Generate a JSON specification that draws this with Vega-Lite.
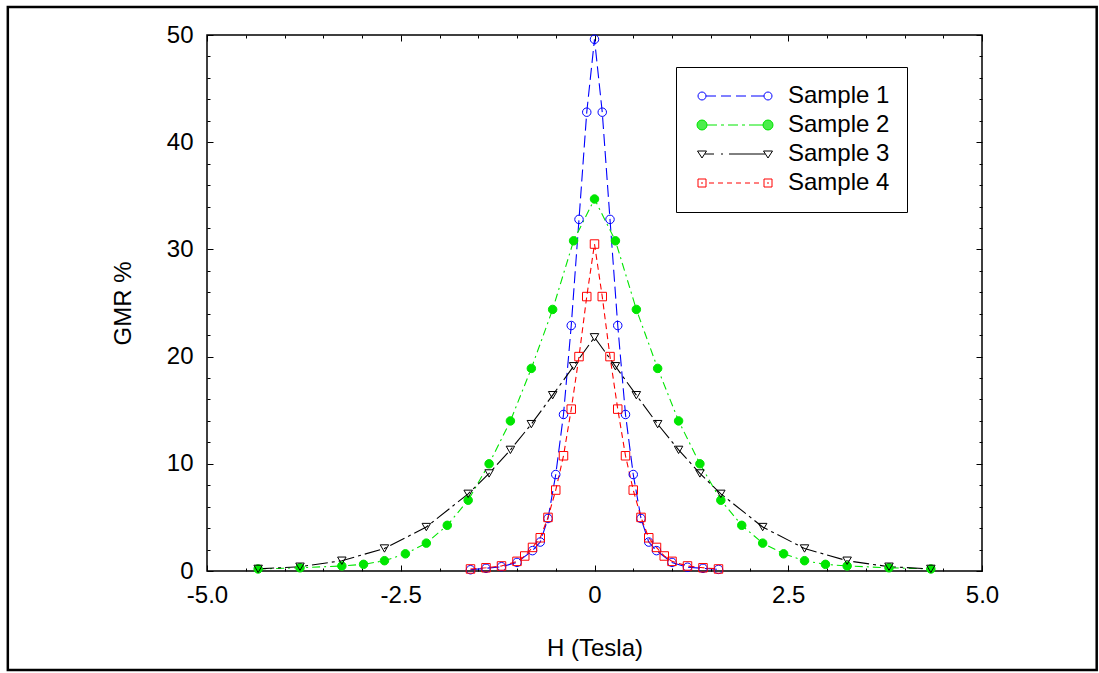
{
  "$schema": "https://vega.github.io/schema/vega-lite/v6.json",
  "width": 775,
  "height": 536,
  "autosize": "none",
  "padding": {"left": 207, "top": 35, "right": 117, "bottom": 102},
  "background": "white",
  "config": {
    "view": {"stroke": "black", "strokeWidth": 1.5},
    "font": "Liberation Sans",
    "axis": {
      "grid": false, "domain": false, "tickColor": "black", "tickWidth": 1,
      "labelColor": "black", "titleColor": "black",
      "labelFont": "Liberation Sans", "titleFont": "Liberation Sans",
      "labelFontSize": 24, "titleFontSize": 24, "titleFontWeight": "normal",
      "labelFlush": false, "labelOverlap": false
    }
  },
  "datasets": {
    "gmr": [
      {"series": "Sample 1", "x": -1.6, "y": 0.12},
      {"series": "Sample 1", "x": -1.4, "y": 0.25},
      {"series": "Sample 1", "x": -1.2, "y": 0.4},
      {"series": "Sample 1", "x": -1.0, "y": 0.8},
      {"series": "Sample 1", "x": -0.8, "y": 1.9},
      {"series": "Sample 1", "x": -0.7, "y": 2.7},
      {"series": "Sample 1", "x": -0.6, "y": 4.9},
      {"series": "Sample 1", "x": -0.5, "y": 9.0},
      {"series": "Sample 1", "x": -0.4, "y": 14.6},
      {"series": "Sample 1", "x": -0.3, "y": 22.9},
      {"series": "Sample 1", "x": -0.2, "y": 32.8},
      {"series": "Sample 1", "x": -0.1, "y": 42.8},
      {"series": "Sample 1", "x": 0, "y": 49.6},
      {"series": "Sample 1", "x": 0.1, "y": 42.8},
      {"series": "Sample 1", "x": 0.2, "y": 32.8},
      {"series": "Sample 1", "x": 0.3, "y": 22.9},
      {"series": "Sample 1", "x": 0.4, "y": 14.6},
      {"series": "Sample 1", "x": 0.5, "y": 9.0},
      {"series": "Sample 1", "x": 0.6, "y": 4.9},
      {"series": "Sample 1", "x": 0.7, "y": 2.7},
      {"series": "Sample 1", "x": 0.8, "y": 1.9},
      {"series": "Sample 1", "x": 1.0, "y": 0.8},
      {"series": "Sample 1", "x": 1.2, "y": 0.35},
      {"series": "Sample 1", "x": 1.4, "y": 0.25},
      {"series": "Sample 1", "x": 1.6, "y": 0.15},
      {"series": "Sample 2", "x": -4.34, "y": 0.19},
      {"series": "Sample 2", "x": -3.8, "y": 0.3},
      {"series": "Sample 2", "x": -3.26, "y": 0.47},
      {"series": "Sample 2", "x": -2.98, "y": 0.62},
      {"series": "Sample 2", "x": -2.71, "y": 0.96},
      {"series": "Sample 2", "x": -2.44, "y": 1.6},
      {"series": "Sample 2", "x": -2.17, "y": 2.6},
      {"series": "Sample 2", "x": -1.9, "y": 4.26},
      {"series": "Sample 2", "x": -1.63, "y": 6.6},
      {"series": "Sample 2", "x": -1.36, "y": 10.0},
      {"series": "Sample 2", "x": -1.085, "y": 14.0},
      {"series": "Sample 2", "x": -0.815, "y": 18.9},
      {"series": "Sample 2", "x": -0.54, "y": 24.4},
      {"series": "Sample 2", "x": -0.27, "y": 30.8},
      {"series": "Sample 2", "x": 0, "y": 34.7},
      {"series": "Sample 2", "x": 0.27, "y": 30.8},
      {"series": "Sample 2", "x": 0.54, "y": 24.4},
      {"series": "Sample 2", "x": 0.815, "y": 18.9},
      {"series": "Sample 2", "x": 1.085, "y": 14.0},
      {"series": "Sample 2", "x": 1.36, "y": 10.0},
      {"series": "Sample 2", "x": 1.63, "y": 6.6},
      {"series": "Sample 2", "x": 1.9, "y": 4.26},
      {"series": "Sample 2", "x": 2.17, "y": 2.6},
      {"series": "Sample 2", "x": 2.44, "y": 1.6},
      {"series": "Sample 2", "x": 2.71, "y": 0.96},
      {"series": "Sample 2", "x": 2.98, "y": 0.62},
      {"series": "Sample 2", "x": 3.26, "y": 0.47},
      {"series": "Sample 2", "x": 3.8, "y": 0.3},
      {"series": "Sample 2", "x": 4.34, "y": 0.19},
      {"series": "Sample 3", "x": -4.34, "y": 0.2},
      {"series": "Sample 3", "x": -3.8, "y": 0.4},
      {"series": "Sample 3", "x": -3.26, "y": 0.96},
      {"series": "Sample 3", "x": -2.71, "y": 2.1},
      {"series": "Sample 3", "x": -2.17, "y": 4.1},
      {"series": "Sample 3", "x": -1.63, "y": 7.2},
      {"series": "Sample 3", "x": -1.36, "y": 9.1},
      {"series": "Sample 3", "x": -1.085, "y": 11.3},
      {"series": "Sample 3", "x": -0.815, "y": 13.7},
      {"series": "Sample 3", "x": -0.54, "y": 16.4},
      {"series": "Sample 3", "x": -0.27, "y": 19.1},
      {"series": "Sample 3", "x": 0, "y": 21.8},
      {"series": "Sample 3", "x": 0.27, "y": 19.1},
      {"series": "Sample 3", "x": 0.54, "y": 16.4},
      {"series": "Sample 3", "x": 0.815, "y": 13.7},
      {"series": "Sample 3", "x": 1.085, "y": 11.3},
      {"series": "Sample 3", "x": 1.36, "y": 9.1},
      {"series": "Sample 3", "x": 1.63, "y": 7.2},
      {"series": "Sample 3", "x": 2.17, "y": 4.1},
      {"series": "Sample 3", "x": 2.71, "y": 2.1},
      {"series": "Sample 3", "x": 3.26, "y": 0.96},
      {"series": "Sample 3", "x": 3.8, "y": 0.4},
      {"series": "Sample 3", "x": 4.34, "y": 0.2},
      {"series": "Sample 4", "x": -1.6, "y": 0.19},
      {"series": "Sample 4", "x": -1.4, "y": 0.3},
      {"series": "Sample 4", "x": -1.2, "y": 0.47},
      {"series": "Sample 4", "x": -1.0, "y": 0.9},
      {"series": "Sample 4", "x": -0.9, "y": 1.4},
      {"series": "Sample 4", "x": -0.8, "y": 2.2},
      {"series": "Sample 4", "x": -0.7, "y": 3.1},
      {"series": "Sample 4", "x": -0.6, "y": 5.0},
      {"series": "Sample 4", "x": -0.5, "y": 7.55},
      {"series": "Sample 4", "x": -0.4, "y": 10.75},
      {"series": "Sample 4", "x": -0.3, "y": 15.1},
      {"series": "Sample 4", "x": -0.2, "y": 20.0},
      {"series": "Sample 4", "x": -0.1, "y": 25.6},
      {"series": "Sample 4", "x": 0, "y": 30.5},
      {"series": "Sample 4", "x": 0.1, "y": 25.6},
      {"series": "Sample 4", "x": 0.2, "y": 20.0},
      {"series": "Sample 4", "x": 0.3, "y": 15.1},
      {"series": "Sample 4", "x": 0.4, "y": 10.75},
      {"series": "Sample 4", "x": 0.5, "y": 7.55},
      {"series": "Sample 4", "x": 0.6, "y": 5.0},
      {"series": "Sample 4", "x": 0.7, "y": 3.1},
      {"series": "Sample 4", "x": 0.8, "y": 2.2},
      {"series": "Sample 4", "x": 0.9, "y": 1.4},
      {"series": "Sample 4", "x": 1.0, "y": 0.9},
      {"series": "Sample 4", "x": 1.2, "y": 0.47},
      {"series": "Sample 4", "x": 1.4, "y": 0.3},
      {"series": "Sample 4", "x": 1.6, "y": 0.19}
    ],
    "empty": []
  },
  "layer": [
    {
      "data": {"values": [{}]},
      "mark": {"type": "rect", "filled": false, "stroke": "black", "strokeWidth": 2.5, "clip": false},
      "encoding": {
        "x": {"datum": -7.57, "type": "quantitative", "scale": {"domain": [-5, 5], "nice": false, "zero": false},
          "axis": {"orient": "bottom", "values": [-4.5, -4, -3.5, -3, -2, -1.5, -1, -0.5, 0.5, 1, 1.5, 2, 3, 3.5, 4, 4.5], "labels": false, "title": null, "tickSize": -3}},
        "x2": {"datum": 6.48},
        "y": {"datum": 52.62, "type": "quantitative", "scale": {"domain": [0, 50], "nice": false, "zero": false},
          "axis": {"orient": "left", "values": [2, 4, 6, 8, 12, 14, 16, 18, 22, 24, 26, 28, 32, 34, 36, 38, 42, 44, 46, 48], "labels": false, "title": null, "tickSize": -3}},
        "y2": {"datum": -9.24}
      }
    },
    {
      "data": {"name": "empty"},
      "mark": {"type": "point"},
      "encoding": {
        "x": {"field": "x", "type": "quantitative", "scale": {"domain": [-5, 5], "nice": false, "zero": false},
          "axis": {"orient": "top", "values": [-5, -2.5, 0, 2.5, 5], "labels": false, "title": null, "tickSize": -6}},
        "y": {"field": "y", "type": "quantitative", "scale": {"domain": [0, 50], "nice": false, "zero": false},
          "axis": {"orient": "right", "values": [0, 10, 20, 30, 40, 50], "labels": false, "title": null, "tickSize": -6}}
      }
    },
    {
      "data": {"name": "empty"},
      "mark": {"type": "point"},
      "encoding": {
        "x": {"field": "x", "type": "quantitative", "scale": {"domain": [-5, 5], "nice": false, "zero": false},
          "axis": {"orient": "top", "values": [-4.5, -4, -3.5, -3, -2, -1.5, -1, -0.5, 0.5, 1, 1.5, 2, 3, 3.5, 4, 4.5], "labels": false, "title": null, "tickSize": -3}},
        "y": {"field": "y", "type": "quantitative", "scale": {"domain": [0, 50], "nice": false, "zero": false},
          "axis": {"orient": "right", "values": [2, 4, 6, 8, 12, 14, 16, 18, 22, 24, 26, 28, 32, 34, 36, 38, 42, 44, 46, 48], "labels": false, "title": null, "tickSize": -3}}
      }
    },
    {
      "data": {"name": "gmr"},
      "mark": {"type": "line", "strokeWidth": 1.1},
      "encoding": {
        "x": {"field": "x", "type": "quantitative", "scale": {"domain": [-5, 5], "nice": false, "zero": false},
          "axis": {"orient": "bottom", "title": "H (Tesla)", "values": [-5, -2.5, 0, 2.5, 5], "ticks": false, "labelPadding": 12, "titlePadding": 29,
            "labelExpr": "datum.value === 0 ? '0' : replace(format(datum.value, '.1f'), '\u2212', '-')"}},
        "y": {"field": "y", "type": "quantitative", "scale": {"domain": [0, 50], "nice": false, "zero": false},
          "axis": {"orient": "left", "title": "GMR %", "values": [0, 10, 20, 30, 40, 50], "ticks": false, "labelPadding": 14, "titlePadding": 31}},
        "stroke": {"field": "series", "type": "nominal",
          "scale": {"range": ["#0000ff", "#00e600", "#000000", "#ff0000"]}, "legend": null},
        "strokeDash": {"field": "series", "type": "nominal",
          "scale": {"range": [[12, 5], [8, 4, 2, 4], [16, 4, 3, 4], [6, 4]]}, "legend": null}
      }
    },
    {
      "data": {"name": "gmr"},
      "mark": {"type": "point", "size": 72, "strokeWidth": 1},
      "encoding": {
        "x": {"field": "x", "type": "quantitative", "scale": {"domain": [-5, 5], "nice": false, "zero": false},
          "axis": {"orient": "bottom", "values": [-5, -2.5, 0, 2.5, 5], "labels": false, "title": null, "tickSize": -6}},
        "y": {"field": "y", "type": "quantitative", "scale": {"domain": [0, 50], "nice": false, "zero": false},
          "axis": {"orient": "left", "values": [0, 10, 20, 30, 40, 50], "labels": false, "title": null, "tickSize": -6}},
        "stroke": {"field": "series", "type": "nominal", "legend": null},
        "fill": {"field": "series", "type": "nominal",
          "scale": {"range": ["transparent", "#00e600", "transparent", "transparent"]}, "legend": null},
        "shape": {"field": "series", "type": "nominal",
          "scale": {"range": ["circle", "circle", "triangle-down", "square"]}, "legend": null},
        "opacity": {"field": "series", "type": "nominal",
          "scale": {"domain": ["Sample 1", "Sample 2", "Sample 3", "Sample 4"], "range": [1, 1, 1, 1]},
          "legend": {
            "title": null, "orient": "none", "legendX": 469, "legendY": 32, "padding": 17,
            "strokeColor": "black", "fillColor": "white",
            "labelFont": "Liberation Sans", "labelFontSize": 24, "labelColor": "black", "labelLimit": 0,
            "labelOffset": 71, "symbolSize": 4, "rowPadding": 5, "symbolStrokeWidth": 1,
            "encoding": {
              "symbols": {
                "size": {"value": 4},
                "strokeWidth": {"value": 1},
                "shape": {
                  "condition": [
                    {"test": "datum.value === 'Sample 1'", "value": "M-7,0A4,4 0 1,1 1,0A4,4 0 1,1 -7,0Z M1,0L11,0M16,0L26,0M31,0L41,0M46,0L59,0 M59,0A4,4 0 1,1 67,0A4,4 0 1,1 59,0Z"},
                    {"test": "datum.value === 'Sample 2'", "value": "M-8,0A5,5 0 1,1 2,0A5,5 0 1,1 -8,0Z M2,0L12,0M16,0L19,0M23,0L33,0M37,0L40,0M44,0L58,0 M58,0A5,5 0 1,1 68,0A5,5 0 1,1 58,0Z"},
                    {"test": "datum.value === 'Sample 3'", "value": "M-7.5,-3L1.5,-3L-3,4Z M0,0L9,0M16,0L18,0M24,0L60,0 M58.5,-3L67.5,-3L63,4Z"}
                  ],
                  "value": "M-7,-4L1,-4L1,4L-7,4Z M-4,0L-2,0 M4,0L9,0M13,0L18,0M22,0L27,0M31,0L36,0M40,0L45,0M49,0L54,0 M59,-4L67,-4L67,4L59,4Z M62,0L64,0"
                },
                "stroke": {
                  "condition": [
                    {"test": "datum.value === 'Sample 1'", "value": "#0000ff"},
                    {"test": "datum.value === 'Sample 2'", "value": "#00e600"},
                    {"test": "datum.value === 'Sample 3'", "value": "#000000"}
                  ],
                  "value": "#ff0000"
                },
                "fill": {
                  "condition": {"test": "datum.value === 'Sample 2'", "value": "#00e600"},
                  "value": "transparent"
                }
              }
            }
          }
        }
      }
    }
  ],
  "resolve": {"axis": {"x": "independent", "y": "independent"}}
}
